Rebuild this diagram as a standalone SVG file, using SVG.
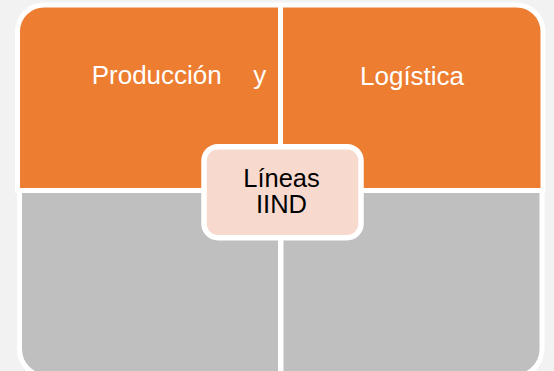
<svg xmlns="http://www.w3.org/2000/svg" width="554" height="371" viewBox="0 0 554 371">
  <style>
    .q { stroke: #FFFFFF; stroke-width: 5; }
    .orange { fill: #ED7D31; }
    .gray { fill: #BFBFBF; }
    .lbl { font-family: "Liberation Sans", Arial, sans-serif; font-size: 26px; fill: #FFFFFF; }
    .center { fill: #F8D9CE; stroke: #FFFFFF; stroke-width: 5.5; }
    .ctext { font-family: "Liberation Sans", Arial, sans-serif; font-size: 25.5px; fill: #000000; text-anchor: middle; }
  </style>
  <rect x="0" y="0" width="554" height="371" fill="#F2F2F2"/>
  <g id="connectors"></g>
  <g id="produccion">
    <path class="q orange" d="M17.5,190.5 L17.5,31.5 A26.5,26.5 0 0 1 44,5 L280.5,5 L280.5,190.5 Z"/>
    <text class="lbl" x="91.7" y="83.5">Producción</text>
    <text class="lbl" x="253.3" y="83.5">y</text>
  </g>
  <g id="logistica">
    <path class="q orange" d="M280.5,5 L516.5,5 A26.5,26.5 0 0 1 543,31.5 L543,190.5 L280.5,190.5 Z"/>
    <text class="lbl" x="360" y="85">Logística</text>
  </g>
  <g id="bottom-left">
    <path class="q gray" d="M19.5,190.5 L280.5,190.5 L280.5,376.5 L47,376.5 A27.5,27.5 0 0 1 19.5,349 Z"/>
  </g>
  <g id="bottom-right">
    <path class="q gray" d="M281,190.5 L542,190.5 L542,349 A27.5,27.5 0 0 1 514.5,376.5 L281,376.5 Z"/>
  </g>
  <g id="lineas">
    <rect class="center" x="204" y="146.7" width="157" height="91" rx="14" ry="14"/>
    <text class="ctext" x="281.5" y="186.5">Líneas</text>
    <text class="ctext" x="281.5" y="213">IIND</text>
  </g>
</svg>
